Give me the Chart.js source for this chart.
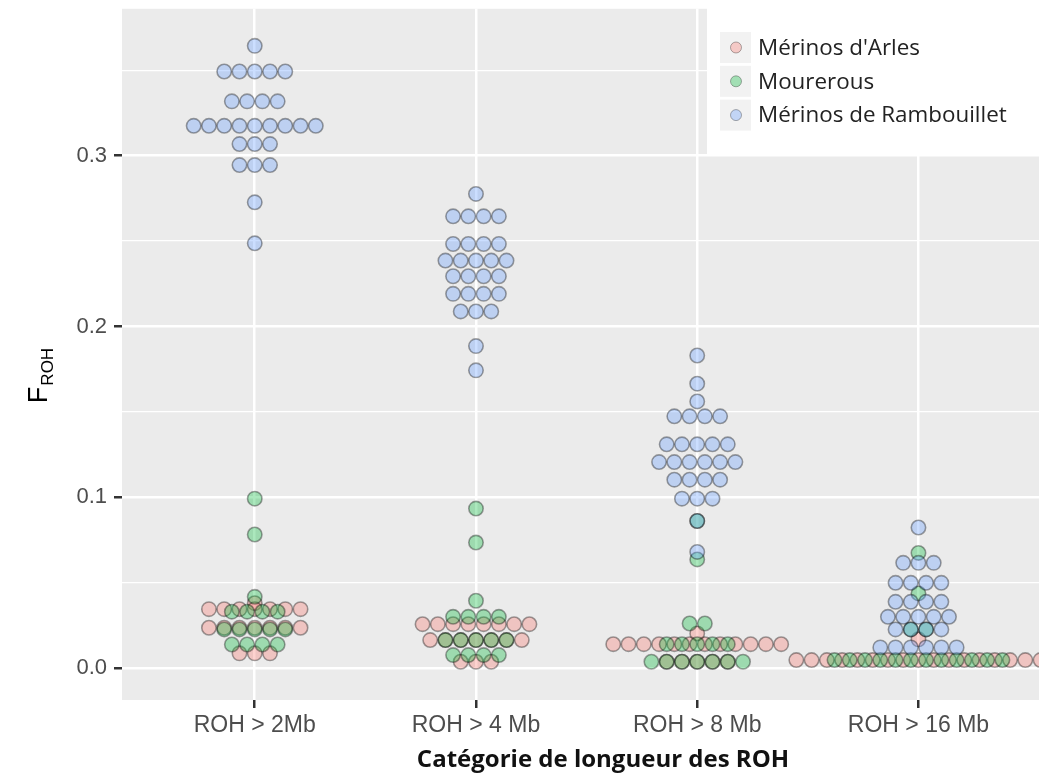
<!DOCTYPE html>
<html>
<head>
<meta charset="utf-8">
<script src="https://cdn.jsdelivr.net/npm/chart.js@4/dist/chart.umd.min.js"></script>
<style>
  html, body { margin: 0; padding: 0; overflow: hidden; background: #ffffff; }
  #wrap { width: 1060px; height: 781px; }
</style>
</head>
<body>
<div id="wrap"><canvas id="c" width="1060" height="781"></canvas></div>
<script>
// ROH length categories (x axis)
const categories = ['ROH > 2Mb', 'ROH > 4 Mb', 'ROH > 8 Mb', 'ROH > 16 Mb'];

// Breeds and their fill colours
const breeds = ["Mérinos d'Arles", 'Mourerous', 'Mérinos de Rambouillet'];
const breedColors = ['rgba(248,118,109,0.33)', 'rgba(0,186,56,0.33)', 'rgba(97,156,255,0.33)'];

// F_ROH values, one list per category: [F_ROH bin, number of animals]
const arlesBins = [
  [[0.0380, 1], [0.0345, 7], [0.0236, 7], [0.0086, 3]],
  [[0.0257, 8], [0.0164, 7], [0.0037, 3]],
  [[0.0203, 1], [0.0140, 12], [0.0037, 5]],
  [[0.0168, 1], [0.0047, 17]]
];
const mourerousBins = [
  [[0.0992, 1], [0.0782, 1], [0.0417, 1], [0.0330, 4], [0.0226, 5], [0.0138, 4]],
  [[0.0934, 1], [0.0735, 1], [0.0394, 1], [0.0300, 4], [0.0164, 5], [0.0076, 4]],
  [[0.0861, 1], [0.0636, 1], [0.0261, 2], [0.0140, 5], [0.0037, 7]],
  [[0.0674, 1], [0.0437, 1], [0.0226, 2], [0.0047, 12]]
];
const rambouilletBins = [
  [[0.3643, 1], [0.3493, 5], [0.3318, 4], [0.3175, 9], [0.3068, 3], [0.2945, 3], [0.2727, 1], [0.2487, 1]],
  [[0.2776, 1], [0.2645, 4], [0.2483, 4], [0.2386, 5], [0.2294, 4], [0.2191, 4], [0.2088, 3], [0.1885, 1], [0.1743, 1]],
  [[0.1830, 1], [0.1665, 1], [0.1561, 1], [0.1474, 4], [0.1310, 5], [0.1206, 6], [0.1103, 4], [0.0992, 3], [0.0861, 1], [0.0680, 1]],
  [[0.0823, 1], [0.0616, 3], [0.0499, 4], [0.0388, 4], [0.0300, 5], [0.0226, 4], [0.0121, 6]]
];

// y axis ticks
const yMajorTicks = [0, 0.1, 0.2, 0.3];
const yTickLabels = ['0.0', '0.1', '0.2', '0.3'];
const yMinorTicks = [0.05, 0.15, 0.25, 0.35];

const xTitle = 'Catégorie de longueur des ROH';

// horizontal distance between stacked dots, in category units
const DOT_STEP = 0.0690;

// centred dot stacking: each bin is spread sideways around its category
function stackCentered(binsPerCategory) {
  const pts = [];
  binsPerCategory.forEach((bins, ci) => {
    bins.forEach(([value, n]) => {
      for (let i = 0; i < n; i++) {
        pts.push({ x: ci + 1 + (i - (n - 1) / 2) * DOT_STEP, y: value });
      }
    });
  });
  return pts;
}

const isMajor = v => yMajorTicks.some(t => Math.abs(t - v) < 1e-9);

const panelBg = {
  id: 'panelBg',
  beforeDraw(chart) {
    const { ctx, chartArea: a } = chart;
    ctx.save();
    ctx.fillStyle = '#EBEBEB';
    ctx.fillRect(a.left, a.top, a.right - a.left, a.bottom - a.top);
    ctx.restore();
  }
};

// axis titles: F_ROH with subscript, and the category title below the ticks
const axisTitles = {
  id: 'axisTitles',
  afterDraw(chart) {
    const ctx = chart.ctx;
    ctx.save();
    ctx.translate(47, 376);
    ctx.rotate(-Math.PI / 2);
    ctx.fillStyle = '#000';
    ctx.textBaseline = 'alphabetic';
    ctx.font = '27px "Liberation Sans"';
    const wF = ctx.measureText('F').width;
    ctx.font = '17px "Liberation Sans"';
    const wR = ctx.measureText('ROH').width;
    const start = -(wF + wR) / 2;
    ctx.font = '27px "Liberation Sans"';
    ctx.fillText('F', start, 0);
    ctx.font = '17px "Liberation Sans"';
    ctx.fillText('ROH', start + wF + 1, 6);
    ctx.restore();

    ctx.save();
    ctx.fillStyle = '#111';
    ctx.font = 'bold 24px "Open Sans"';
    ctx.textAlign = 'center';
    ctx.textBaseline = 'middle';
    ctx.fillText(xTitle, 603, 760);
    ctx.restore();
  }
};

// legend drawn inside the panel, top right
const insideLegend = {
  id: 'insideLegend',
  afterDraw(chart) {
    const ctx = chart.ctx;
    const left = 707, top = 4, right = 1060, bottom = 154;
    ctx.save();
    ctx.fillStyle = '#ffffff';
    ctx.fillRect(left, top, right - left, bottom - top);
    const order = [2, 1, 0].map(o => chart.data.datasets.find(d => d.order === o));
    order.forEach((ds, i) => {
      const cy = 47.5 + i * 33.8;
      ctx.fillStyle = '#F2F2F2';
      ctx.fillRect(720, cy - 15.5, 31, 31);
      ctx.beginPath();
      ctx.arc(736, cy, 5.5, 0, Math.PI * 2);
      ctx.fillStyle = ds.backgroundColor;
      ctx.fill();
      ctx.lineWidth = 1;
      ctx.strokeStyle = 'rgba(0,0,0,0.3)';
      ctx.stroke();
      ctx.fillStyle = '#222';
      ctx.font = '22.4px "Open Sans"';
      ctx.textBaseline = 'middle';
      ctx.fillText(ds.label, 758, cy + 1);
    });
    ctx.restore();
  }
};

const dotStyle = {
  pointRadius: 7.2,
  pointHoverRadius: 7.2,
  pointBorderWidth: 1.6,
  pointBorderColor: 'rgba(0,0,0,0.36)',
  showLine: false
};

new Chart(document.getElementById('c'), {
  type: 'scatter',
  data: {
    datasets: [
      Object.assign({ label: breeds[0], data: stackCentered(arlesBins), backgroundColor: breedColors[0], order: 2 }, dotStyle),
      Object.assign({ label: breeds[1], data: stackCentered(mourerousBins), backgroundColor: breedColors[1], order: 1 }, dotStyle),
      Object.assign({ label: breeds[2], data: stackCentered(rambouilletBins), backgroundColor: breedColors[2], order: 0 }, dotStyle)
    ]
  },
  options: {
    responsive: false,
    animation: false,
    devicePixelRatio: 1,
    layout: { padding: { left: 0, right: 1, top: 0, bottom: 0 } },
    plugins: { legend: { display: false }, tooltip: { enabled: false } },
    scales: {
      x: {
        type: 'linear',
        min: 0.4,
        max: 4.6,
        afterBuildTicks: s => { s.ticks = categories.map((c, i) => ({ value: i + 1 })); },
        afterFit: s => { s.height = 81; s.paddingLeft = 0; s.paddingRight = 0; },
        border: { display: false },
        grid: { color: '#ffffff', lineWidth: 2.5, drawTicks: true, tickLength: 8, tickColor: '#333333', tickWidth: 2.5 },
        ticks: {
          autoSkip: false, maxRotation: 0, padding: 4, color: '#4D4D4D',
          font: { family: '"Liberation Sans"', size: 23 },
          callback: v => categories[Math.round(v) - 1] || ''
        }
      },
      y: {
        min: -0.0187,
        max: 0.386,
        afterBuildTicks: s => {
          s.ticks = yMajorTicks.concat(yMinorTicks).sort((a, b) => a - b).map(v => ({ value: v }));
        },
        afterFit: s => { s.width = 122; s.paddingTop = 0; s.paddingBottom = 0; },
        border: { display: false },
        grid: {
          color: '#ffffff',
          lineWidth: c => (c.tick && isMajor(c.tick.value)) ? 2.5 : 1.2,
          drawTicks: true, tickLength: 8, tickWidth: 2.5,
          tickColor: c => (c.tick && isMajor(c.tick.value)) ? '#333333' : 'rgba(0,0,0,0)'
        },
        ticks: {
          padding: 7, color: '#4D4D4D',
          font: { family: '"Liberation Sans"', size: 22 },
          callback: v => {
            const k = yMajorTicks.findIndex(t => Math.abs(t - v) < 1e-9);
            return k >= 0 ? yTickLabels[k] : '';
          }
        }
      }
    }
  },
  plugins: [panelBg, axisTitles, insideLegend]
});
</script>
</body>
</html>
